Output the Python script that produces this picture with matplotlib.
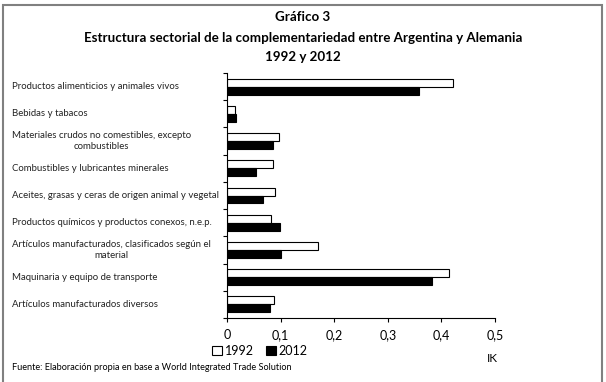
import matplotlib
matplotlib.use('Agg')
import matplotlib.pyplot as plt
import matplotlib.transforms as mtransforms
from matplotlib.patches import Rectangle, Patch
import numpy as np

plt.rcParams['font.family'] = ['Lato', 'DejaVu Sans']

categories = [
    'Productos alimenticios y animales vivos',
    'Bebidas y tabacos',
    'Materiales crudos no comestibles, excepto\ncombustibles',
    'Combustibles y lubricantes minerales',
    'Aceites, grasas y ceras de origen animal y vegetal',
    'Productos químicos y productos conexos, n.e.p.',
    'Artículos manufacturados, clasificados según el\nmaterial',
    'Maquinaria y equipo de transporte',
    'Artículos manufacturados diversos',
]
ik_1992 = [0.422, 0.015, 0.097, 0.085, 0.089, 0.083, 0.170, 0.415, 0.087]
ik_2012 = [0.358, 0.016, 0.086, 0.054, 0.068, 0.099, 0.100, 0.382, 0.080]
xticks = [0, 0.1, 0.2, 0.3, 0.4, 0.5]
xticklabels = ['0', '0,1', '0,2', '0,3', '0,4', '0,5']

W, H = 606, 382
fig = plt.figure(figsize=(W / 100, H / 100), dpi=100)
fig.patch.set_facecolor('white')

# outer frame
fig.add_artist(Rectangle((3 / W, -0.02), 599 / W, 1 - 5 / H + 0.02,
                         transform=fig.transFigure, fill=False,
                         edgecolor='#808080', linewidth=1.5))

# axes: x 227..495 px, y 73..318 px
ax = fig.add_axes([227 / W, 1 - 318 / H, (495 - 227) / W, (318 - 73) / H])

n = len(categories)
pos = np.arange(n)
bh = 0.29
ax.barh(pos - bh / 2, ik_1992, height=bh, color='white', edgecolor='black', linewidth=0.8)
ax.barh(pos + bh / 2, ik_2012, height=bh, color='black', edgecolor='black', linewidth=0.8)

ax.set_xlim(0, 0.5)
ax.set_ylim(n - 0.5, -0.5)
ax.set_xticks(xticks)
ax.set_xticklabels(xticklabels, fontsize=9)
ax.set_yticks(np.arange(n + 1) - 0.5)
ax.set_yticklabels([])
ax.tick_params(axis='both', direction='out', length=3, width=0.8, color='black', pad=5)
for s in ['top', 'right']:
    ax.spines[s].set_visible(False)
for s in ['left', 'bottom']:
    ax.spines[s].set_linewidth(0.8)

# category labels: left-aligned block, centred lines (x in figure coords)
lab_tr = mtransforms.blended_transform_factory(fig.transFigure, ax.transData)
for i, lab in enumerate(categories):
    ax.text(12 / W, i, lab, transform=lab_tr, fontsize=6.9,
            ha='left', va='center', multialignment='center', color='#222222',
            linespacing=1.3)

# titles
fig.text(0.5, 1 - 17 / H, 'Gráfico 3', ha='center', va='center', fontsize=9.6, fontweight='bold')
fig.text(0.5, 1 - 38 / H, 'Estructura sectorial de la complementariedad entre Argentina y Alemania',
         ha='center', va='center', fontsize=9.6, fontweight='bold')
fig.text(0.5, 1 - 57 / H, '1992 y 2012', ha='center', va='center', fontsize=9.6, fontweight='bold')

# legend
handles = [Patch(facecolor='white', edgecolor='black', linewidth=0.8, label='1992'),
           Patch(facecolor='black', edgecolor='black', linewidth=0.8, label='2012')]
fig.legend(handles=handles, loc='center', bbox_to_anchor=(260 / W, 1 - 351 / H), ncol=2,
           frameon=False, fontsize=9, handlelength=0.8, handleheight=0.8,
           handletextpad=0.2, columnspacing=1.0, borderpad=0)

fig.text(492 / W, 1 - 359 / H, 'IK', ha='center', va='center', fontsize=8.5)
fig.text(12 / W, 1 - 368 / H, 'Fuente: Elaboración propia en base a World Integrated Trade Solution',
         ha='left', va='center', fontsize=6.6)

fig.savefig('out.png', dpi=100, facecolor='white')
